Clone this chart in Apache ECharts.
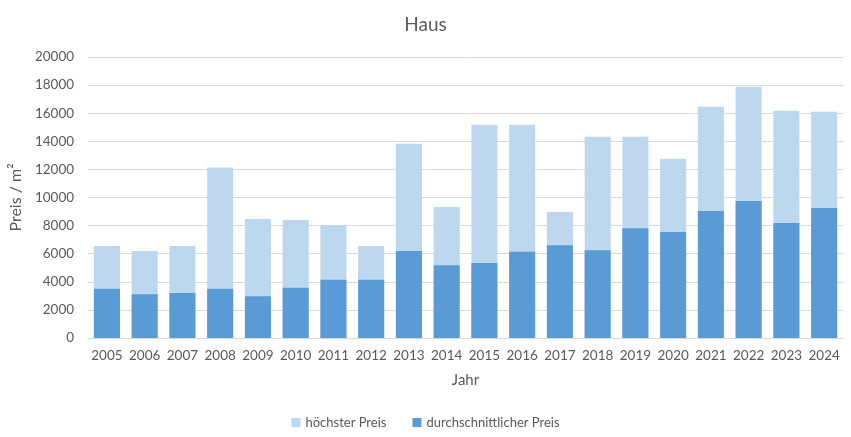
<!DOCTYPE html>
<html><head><meta charset="utf-8">
<script src="https://cdn.jsdelivr.net/npm/echarts@6/dist/echarts.min.js"></script>
<style>html,body{margin:0;padding:0;background:#fff}#c{width:851px;height:437px}</style>
</head><body><div id="c"></div>
<script>
const years = ['2005','2006','2007','2008','2009','2010','2011','2012','2013','2014','2015','2016','2017','2018','2019','2020','2021','2022','2023','2024'];
const hoechsterPreis = [6550,6200,6550,12130,8470,8400,8040,6550,13820,9320,15170,15170,8970,14320,14320,12750,16460,17880,16170,16100];
const durchschnittPreis = [3500,3120,3200,3500,2970,3570,4140,4140,6200,5180,5330,6140,6610,6250,7820,7540,9040,9750,8180,9250];
const yTicks = {min:0, max:20000, interval:2000};

const font = 'Lato, "Liberation Sans", sans-serif';
const txt = '#595959';
const chart = echarts.init(document.getElementById('c'));
chart.setOption({
  animation:false,
  textStyle:{fontFamily:font},
  title:{text:'Haus', left:'center', top:10, textStyle:{fontFamily:font, fontSize:19, fontWeight:'normal', color:txt}},
  grid:{left:87, right:8, top:57, bottom:99, containLabel:false},
  legend:{bottom:3, left:'center', itemWidth:9, itemHeight:9, itemGap:26, icon:'rect',
    textStyle:{fontFamily:font, fontSize:13, color:txt},
    data:['höchster Preis','durchschnittlicher Preis']},
  xAxis:{type:'category', data:years, name:'Jahr', nameLocation:'middle', nameGap:35,
    nameTextStyle:{fontFamily:font, fontSize:15, color:txt},
    axisLine:{lineStyle:{color:'#D9D9D9'}}, axisTick:{show:false},
    axisLabel:{fontFamily:font, fontSize:13.5, color:txt, margin:11, interval:0}},
  yAxis:{type:'value', min:yTicks.min, max:yTicks.max, interval:yTicks.interval,
    name:'Preis / m²', nameLocation:'middle', nameGap:57, nameRotate:90,
    nameTextStyle:{fontFamily:font, fontSize:16, color:txt},
    axisLine:{show:false}, axisTick:{show:false},
    axisLabel:{fontFamily:font, fontSize:13.5, color:txt, margin:14, formatter:v=>String(v)},
    splitLine:{lineStyle:{color:'#D9D9D9'}}},
  series:[
    {name:'höchster Preis', type:'bar', data:hoechsterPreis, barWidth:'69%', barGap:'-100%',
      itemStyle:{color:'#BDD7EE'}},
    {name:'durchschnittlicher Preis', type:'bar', data:durchschnittPreis, barWidth:'69%', barGap:'-100%',
      itemStyle:{color:'#5B9BD5'}}
  ]
});
</script></body></html>
